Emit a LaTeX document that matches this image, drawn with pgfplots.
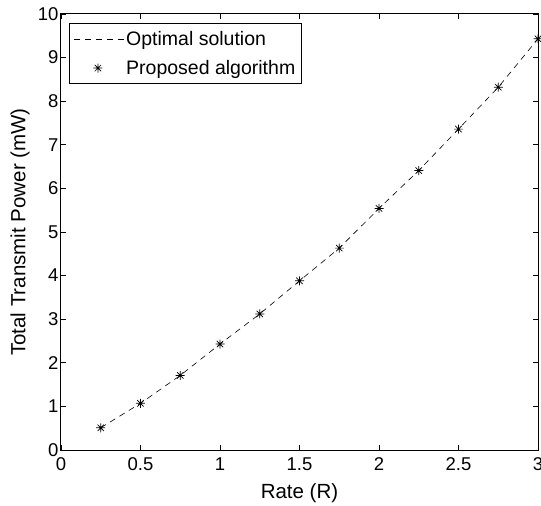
\documentclass[border=0pt]{standalone}
\usepackage{fontspec}
\setmainfont{Liberation Sans}
\usepackage{pgfplots}
\pgfplotsset{compat=1.18}
\pgfdeclareplotmark{mstar}{%
  \pgfpathmoveto{\pgfqpoint{-\pgfplotmarksize}{0pt}}\pgfpathlineto{\pgfqpoint{\pgfplotmarksize}{0pt}}%
  \pgfpathmoveto{\pgfqpoint{0pt}{-\pgfplotmarksize}}\pgfpathlineto{\pgfqpoint{0pt}{\pgfplotmarksize}}%
  \pgfpathmoveto{\pgfqpoint{-0.707\pgfplotmarksize}{-0.707\pgfplotmarksize}}\pgfpathlineto{\pgfqpoint{0.707\pgfplotmarksize}{0.707\pgfplotmarksize}}%
  \pgfpathmoveto{\pgfqpoint{-0.707\pgfplotmarksize}{0.707\pgfplotmarksize}}\pgfpathlineto{\pgfqpoint{0.707\pgfplotmarksize}{-0.707\pgfplotmarksize}}%
  \pgfusepathqstroke}
\pgfplotsset{
  linelegend/.style={legend image code/.code={\draw[##1] (0pt,0pt) -- (50pt,0pt);}},
  marklegend/.style={legend image code/.code={\draw[##1] plot coordinates {(24pt,0pt)};}},
}
\pgfplotstableread{
x y
0.25 0.51
0.50 1.07
0.75 1.71
1.00 2.43
1.25 3.12
1.50 3.88
1.75 4.63
2.00 5.54
2.25 6.41
2.50 7.36
2.75 8.32
3.00 9.43
}\datatab
\begin{document}
\begin{tikzpicture}
\useasboundingbox (-61pt,-56pt) rectangle (480pt,450pt);
\begin{axis}[
  name=ax,
  at={(0pt,0pt)}, anchor=south west,
  scale only axis,
  width=477pt, height=436pt,
  xmin=0, xmax=3, ymin=0, ymax=10,
  xtick={0,0.5,1,1.5,2,2.5,3},
  ytick={0,1,2,3,4,5,6,7,8,9,10},
  xticklabels={0,0.5,1,1.5,2,2.5,3},
  tick align=inside,
  major tick length=5pt,
  tick style={black, line width=0.6pt},
  axis line style={line width=1pt},
  /pgf/number format/assume math mode=true,
  ticklabel style={font=\fontsize{18.5}{21}\selectfont},
  xticklabel style={yshift=-4pt},
  yticklabel style={xshift=1pt},
  xlabel={Rate (R)},
  ylabel={Total Transmit Power (mW)},
  label style={font=\fontsize{20.5}{24}\selectfont},
  xlabel style={at={(axis description cs:0.5,-0.1)}, anchor=center},
  ylabel style={at={(axis description cs:-0.086,0.5)}, anchor=center},
  legend style={at={(0.017,0.979)}, anchor=north west, font=\fontsize{19.5}{23}\selectfont,
    draw=black, line width=1pt, inner xsep=4pt, inner ysep=6pt, row sep=9pt, cells={anchor=west}},
  legend cell align=left,
]
\addplot[black, line width=0.6pt, dash pattern=on 6pt off 5pt, linelegend] table[x=x,y=y] {\datatab};
\addlegendentry{Optimal solution}
\addplot[only marks, black, mark=mstar, mark size=4.5pt, line width=0.7pt, marklegend] table[x=x,y=y] {\datatab};
\addlegendentry{Proposed algorithm}
\end{axis}
\end{tikzpicture}
\end{document}
